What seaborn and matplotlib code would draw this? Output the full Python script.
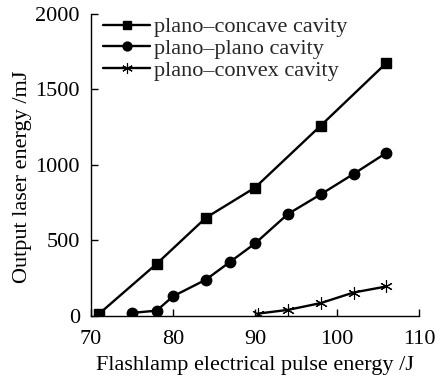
import matplotlib
matplotlib.use("Agg")
import matplotlib.pyplot as plt
import seaborn as sns
import pandas as pd

concave_x = [71, 78, 84, 90, 98, 106]
concave_y = [15, 345, 650, 850, 1260, 1675]
plano_x = [75, 78, 80, 84, 87, 90, 94, 98, 102, 106]
plano_y = [20, 35, 130, 240, 360, 480, 675, 805, 940, 1080]
convex_x = [90.3, 94, 98, 102, 106]
convex_y = [15, 40, 85, 155, 195]
names = ["plano\u2013concave cavity", "plano\u2013plano cavity", "plano\u2013convex cavity"]
xticks = [70, 80, 90, 100, 110]
yticks = [0, 500, 1000, 1500, 2000]

rows = []
for n, xs, ys in zip(names, [concave_x, plano_x, convex_x], [concave_y, plano_y, convex_y]):
    for x, y in zip(xs, ys):
        rows.append({"x": x, "y": y, "series": n})
df = pd.DataFrame(rows)

sns.set_style("ticks")
plt.rcParams["font.family"] = ["Liberation Serif", "DejaVu Serif"]

fig = plt.figure(figsize=(4.44, 3.77), dpi=100)
ax = fig.add_axes([0.205, 0.162, 0.739, 0.801])

markers = {names[0]: "s", names[1]: "o", names[2]: (6, 2, 0)}
sizes = {names[0]: 7, names[1]: 7.5, names[2]: 9}
for n in names:
    sub = df[df.series == n]
    sns.lineplot(data=sub, x="x", y="y", ax=ax, color="black", marker=markers[n],
                 markersize=sizes[n], markeredgecolor="black",
                 markeredgewidth=1.0 if n != names[2] else 0.8,
                 linewidth=1.7, label=n, sort=False)

ax.set_xlim(70, 110)
ax.set_ylim(0, 2000)
ax.set_xticks(xticks)
ax.set_yticks(yticks)
ax.tick_params(direction="in", length=5, width=1, labelsize=16, colors="black")
ax.tick_params(axis="x", pad=10)
ax.tick_params(axis="y", pad=8)
for s in ["top", "right"]:
    ax.spines[s].set_visible(False)
for s in ["left", "bottom"]:
    ax.spines[s].set_linewidth(1)
    ax.spines[s].set_color("black")
ax.set_xlabel("Flashlamp electrical pulse energy /J", fontsize=16, color="black", labelpad=5)
ax.set_ylabel("Output laser energy /mJ", fontsize=16, color="black")
ax.yaxis.set_label_coords(-0.18, 0.46)
leg = ax.legend(loc="upper left", frameon=False, fontsize=16, handlelength=2.1,
                borderaxespad=0.0, labelspacing=0.05, handletextpad=0.2,
                bbox_to_anchor=(0.01, 1.02), markerscale=0.85)
fig.savefig("out.png", dpi=100)
